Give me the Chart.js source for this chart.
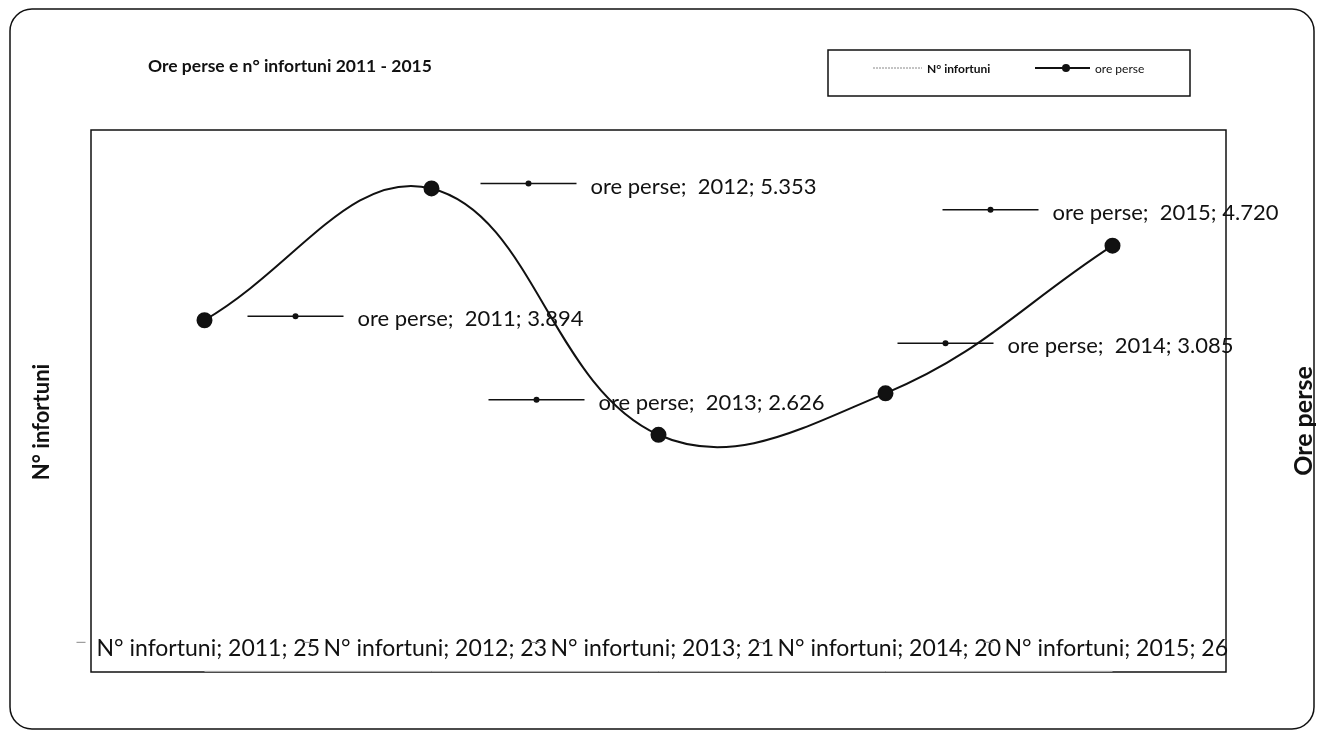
<!DOCTYPE html>
<html>
<head>
<meta charset="utf-8">
<script src="https://cdn.jsdelivr.net/npm/chart.js@4.4.0/dist/chart.umd.min.js"></script>
<style>
  html, body { margin: 0; padding: 0; background: #fff; }
  #wrap { width: 1321px; height: 740px; }
</style>
</head>
<body>
<div id="wrap"><canvas id="chart" width="1321" height="740"></canvas></div>
<script>
// Data
const years = ['2011', '2012', '2013', '2014', '2015'];
const orePerse = [3894, 5353, 2626, 3085, 4720];
const nInfortuni = [25, 23, 21, 20, 26];
const oreRange = [0, 6000];
const infortuniRange = [0, 20000];

const chartTitle = 'Ore perse e n° infortuni 2011 - 2015';
const leftTitle = 'N° infortuni';
const rightTitle = 'Ore perse';

// where Excel put the ore perse labels, relative to each point
const oreLabelOffsets = [[43, -4], [49, -5], [-170, -35], [12, -50], [-170, -36]];

const FONT = 'Lato, "Liberation Sans", sans-serif';
const INK = '#111';

// italian style thousands: 3894 -> 3.894
const fmt = (v) => String(v).replace(/\B(?=(\d{3})+(?!\d))/g, '.');

const decor = {
    id: 'decor',
    beforeDraw(chart) {
        const ctx = chart.ctx;
        const a = chart.chartArea;
        ctx.save();
        ctx.fillStyle = '#fff';
        ctx.fillRect(0, 0, chart.width, chart.height);
        // outer frame
        ctx.strokeStyle = INK;
        ctx.lineWidth = 1.5;
        ctx.beginPath();
        ctx.roundRect(10, 9, 1304, 720, 22);
        ctx.stroke();
        // plot area frame
        ctx.strokeRect(a.left, a.top, a.right - a.left, a.bottom - a.top);
        ctx.restore();
    },
    afterDatasetsDraw(chart) {
        const ctx = chart.ctx;
        const dsInf = chart.data.datasets[0];
        const dsOre = chart.data.datasets[1];
        const metaInf = chart.getDatasetMeta(0);
        const metaOre = chart.getDatasetMeta(1);
        ctx.save();
        ctx.textBaseline = 'middle';
        ctx.textAlign = 'left';

        // N° infortuni labels along the bottom
        ctx.font = '23px ' + FONT;
        metaInf.data.forEach((el, i) => {
            const y = el.y - 23;
            ctx.strokeStyle = '#888';
            ctx.lineWidth = 1;
            ctx.beginPath();
            ctx.moveTo(el.x - 128, y - 6);
            ctx.lineTo(el.x - 119, y - 6);
            ctx.stroke();
            ctx.fillStyle = INK;
            ctx.fillText(dsInf.label + '; ' + years[i] + '; ' + fmt(dsInf.data[i]), el.x - 108, y);
        });

        // ore perse labels with their legend key
        ctx.font = '22px ' + FONT;
        metaOre.data.forEach((el, i) => {
            const kx = el.x + oreLabelOffsets[i][0];
            const ky = el.y + oreLabelOffsets[i][1];
            ctx.strokeStyle = INK;
            ctx.lineWidth = 1.5;
            ctx.beginPath();
            ctx.moveTo(kx, ky);
            ctx.lineTo(kx + 96, ky);
            ctx.stroke();
            ctx.fillStyle = INK;
            ctx.beginPath();
            ctx.arc(kx + 48, ky, 3, 0, Math.PI * 2);
            ctx.fill();
            ctx.fillText(dsOre.label + ';  ' + years[i] + '; ' + fmt(dsOre.data[i]), kx + 110, ky + 3);
        });
        ctx.restore();
    },
    afterDraw(chart) {
        const ctx = chart.ctx;
        const ds = chart.data.datasets;
        ctx.save();
        ctx.fillStyle = INK;
        ctx.textBaseline = 'middle';

        // title
        ctx.font = 'bold 17.5px ' + FONT;
        ctx.textAlign = 'left';
        ctx.fillText(chartTitle, 148, 66);

        // legend box
        ctx.strokeStyle = INK;
        ctx.lineWidth = 1.5;
        ctx.strokeRect(828, 50, 362, 46);
        ctx.strokeStyle = '#888';
        ctx.lineWidth = 1;
        ctx.setLineDash([2, 1]);
        ctx.beginPath();
        ctx.moveTo(873, 68);
        ctx.lineTo(922, 68);
        ctx.stroke();
        ctx.setLineDash([]);
        ctx.font = 'bold 12px ' + FONT;
        ctx.fillText(ds[0].label, 927, 69);
        ctx.strokeStyle = INK;
        ctx.lineWidth = 2;
        ctx.beginPath();
        ctx.moveTo(1035, 68);
        ctx.lineTo(1090, 68);
        ctx.stroke();
        ctx.beginPath();
        ctx.arc(1066, 68, 4, 0, Math.PI * 2);
        ctx.fill();
        ctx.font = '12px ' + FONT;
        ctx.fillText(ds[1].label, 1095, 69);

        // axis titles
        ctx.textAlign = 'center';
        [[42, 422, 22, leftTitle], [1304, 421, 25, rightTitle]].forEach(([x, y, size, t]) => {
            ctx.save();
            ctx.font = 'bold ' + size + 'px ' + FONT;
            ctx.translate(x, y);
            ctx.rotate(-Math.PI / 2);
            ctx.fillText(t, 0, 0);
            ctx.restore();
        });
        ctx.restore();
    }
};

const ctx = document.getElementById('chart').getContext('2d');
const chart = new Chart(ctx, {
    type: 'line',
    data: {
        labels: years,
        datasets: [
            {
                label: 'N° infortuni',
                data: nInfortuni,
                yAxisID: 'y',
                borderColor: '#bbb',
                borderWidth: 1,
                pointRadius: 0,
                tension: 0
            },
            {
                label: 'ore perse',
                data: orePerse,
                yAxisID: 'y1',
                borderColor: INK,
                borderWidth: 2,
                pointRadius: 7,
                pointBackgroundColor: INK,
                pointBorderColor: INK,
                tension: 0.4
            }
        ]
    },
    options: {
        responsive: false,
        devicePixelRatio: 1,
        animation: false,
        layout: { padding: { left: 91, right: 95, top: 130, bottom: 68 } },
        scales: {
            x: { display: false, offset: true },
            y: { display: false, min: infortuniRange[0], max: infortuniRange[1] },
            y1: { display: false, position: 'right', min: oreRange[0], max: oreRange[1] }
        },
        plugins: {
            legend: { display: false },
            tooltip: { enabled: false }
        }
    },
    plugins: [decor]
});
</script>
</body>
</html>
